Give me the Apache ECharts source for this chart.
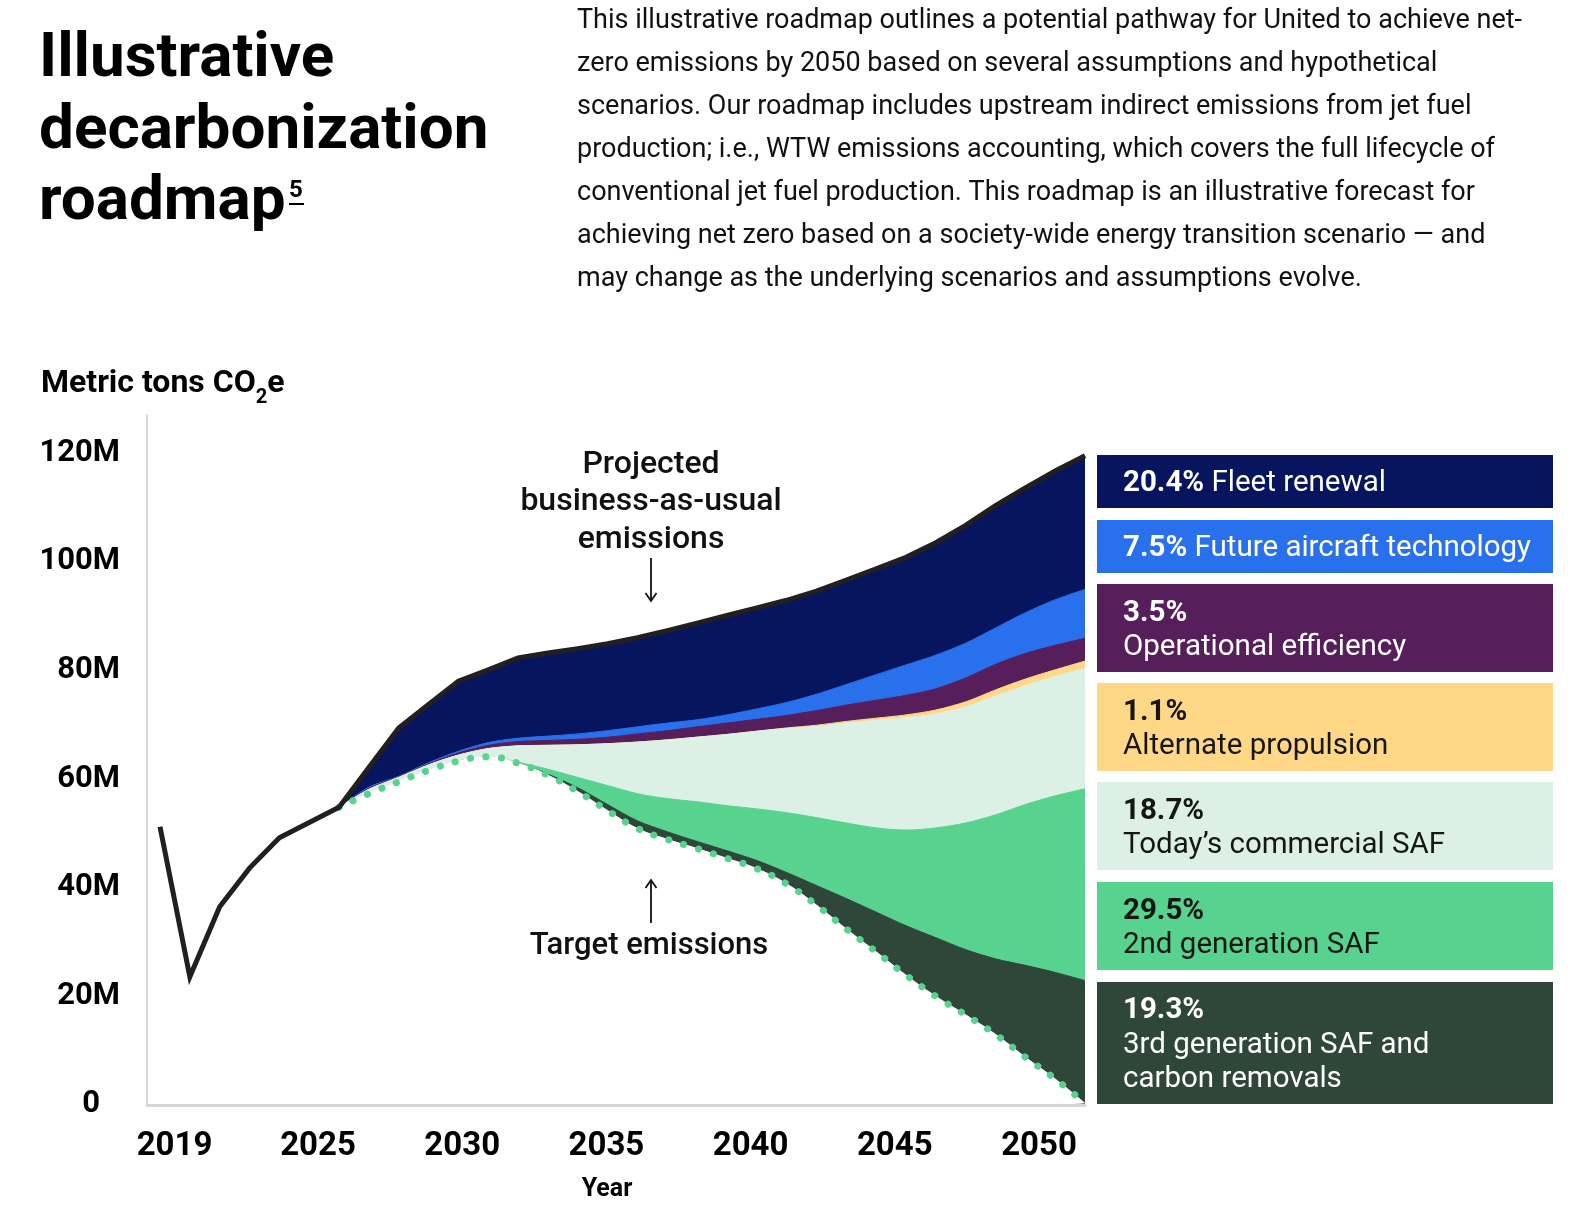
<!DOCTYPE html>
<html>
<head>
<meta charset="utf-8">
<script src="https://cdn.jsdelivr.net/npm/echarts@6/dist/echarts.min.js"></script>
<style>
html,body{margin:0;padding:0;background:#fff;}
#chart{width:1582px;height:1216px;}
</style>
</head>
<body>
<div id="chart"></div>
<script>
// ---------------- DATA ----------------
const yearsAll = [2019,2020,2021,2022,2023,2024,2025,2026,2027,2028,2029,2030,2031,2032,2033,2034,2035,2036,2037,2038,2039,2040,2041,2042,2043,2044,2045,2046,2047,2048,2049,2050];
const bauEmissions = [51.2,23.6,36.5,43.6,49.2,52.0,54.8,62.1,69.4,73.7,78.0,80.1,82.3,83.2,84.0,84.9,86.0,87.3,88.7,90.1,91.5,92.9,94.6,96.6,98.7,100.8,103.5,106.7,110.3,113.6,116.7,119.5];

const roadmapYears = [2025,2026,2027,2028,2029,2030,2031,2032,2033,2034,2035,2036,2037,2038,2039,2040,2041,2042,2043,2044,2045,2046,2047,2048,2049,2050];
const targetEmissions   = [54.8,57.3,59.5,61.6,63.3,64.1,62.9,60.7,57.7,54.2,50.9,48.9,47.2,45.4,43.5,40.7,36.8,32.4,28.2,23.9,20.0,16.6,13.0,8.8,4.8,0.3];
// upper edge of each wedge (cumulative)
const thirdGenSafTop    = [54.8,57.3,59.5,61.6,63.3,64.1,62.9,60.9,58.4,55.3,52.3,50.3,48.5,46.8,45.0,42.8,40.4,38.0,35.5,33.0,30.8,28.6,26.9,25.7,24.4,22.9];
const secondGenSafTop   = [54.8,57.3,59.5,61.6,63.3,64.1,63.1,61.8,60.3,58.8,57.3,56.4,55.8,55.1,54.5,53.8,52.9,51.9,51.0,50.6,51.0,51.9,53.4,55.3,56.9,58.2];
const todaySafTop       = [54.8,58.1,60.3,62.6,64.4,65.6,66.1,66.2,66.3,66.5,66.8,67.2,67.7,68.2,68.8,69.3,69.7,70.3,70.8,71.3,72.0,73.3,75.3,77.2,78.9,80.4];
const altPropulsionTop  = [54.8,58.1,60.3,62.6,64.4,65.6,66.1,66.2,66.3,66.5,66.8,67.2,67.7,68.2,68.8,69.4,69.9,70.6,71.2,71.8,72.7,74.2,76.4,78.4,80.1,81.7];
const opsEfficiencyTop  = [54.8,58.3,60.4,62.8,64.8,66.2,66.9,67.1,67.3,67.7,68.3,68.9,69.6,70.3,71.0,71.7,72.6,73.6,74.5,75.4,76.6,78.6,81.1,83.1,84.6,85.9];
const futureAircraftTop = [54.8,58.5,60.5,63.0,65.1,66.7,67.5,67.9,68.3,68.9,69.6,70.3,70.9,71.8,72.9,74.1,75.6,77.4,79.2,81.0,82.8,85.0,87.8,90.6,93.0,94.9];

const yTickValues = [0,20,40,60,80,100,120];
const xTickYears = [2025,2030,2035,2040,2045,2050];
const firstYearLabel = [2019];

const legendPercents = ['20.4%','7.5%','3.5%','1.1%','18.7%','29.5%','19.3%'];
const legendLabels = ['Fleet renewal','Future aircraft technology','Operational efficiency','Alternate propulsion','Today\u2019s commercial SAF','2nd generation SAF','3rd generation SAF and\ncarbon removals'];

const paragraphLines = [
  'This illustrative roadmap outlines a potential pathway for United to achieve net-',
  'zero emissions by 2050 based on several assumptions and hypothetical',
  'scenarios. Our roadmap includes upstream indirect emissions from jet fuel',
  'production; i.e., WTW emissions accounting, which covers the full lifecycle of',
  'conventional jet fuel production. This roadmap is an illustrative forecast for',
  'achieving net zero based on a society-wide energy transition scenario \u2014 and',
  'may change as the underlying scenarios and assumptions evolve.'
];

// ---------------- STYLE ----------------
const FONT = 'Roboto';
const C = {
  navy:'#07155f', blue:'#2870ec', purple:'#561f5b', yellow:'#fed886',
  mint:'#dcf0e6', green:'#58d28f', dark:'#2e4739', line:'#231f20'
};

const bauRoadmap = bauEmissions.slice(yearsAll.indexOf(2025));
// Layers painted back to front: each is filled from its upper edge down to the axis,
// the next (lower) layer covers the rest; the white fill below the target closes it.
const layers = [
  ['Fleet renewal', bauRoadmap, C.navy, false],
  ['Future aircraft technology', futureAircraftTop, C.blue, 0.3],
  ['Operational efficiency', opsEfficiencyTop, C.purple, 0.3],
  ['Alternate propulsion', altPropulsionTop, C.yellow, 0.3],
  ['Today\u2019s commercial SAF', todaySafTop, C.mint, 0.3],
  ['2nd generation SAF', secondGenSafTop, C.green, 0.3],
  ['3rd generation SAF and carbon removals', thirdGenSafTop, C.dark, 0.3]
];

const series = [];
layers.forEach((l, k)=>{
  series.push({
    name:l[0], type:'line', smooth:l[3], symbol:'none', z:2+k, silent:true,
    data: roadmapYears.map((y,i)=>[y, l[1][i]]),
    lineStyle:{width:1, color:l[2]},
    areaStyle:{color:l[2], opacity:1}
  });
});
const targetData = roadmapYears.map((y,i)=>[y, targetEmissions[i]]);
series.push({
  name:'Below target', type:'line', smooth:0.45, symbol:'none', z:10, silent:true,
  data: targetData,
  lineStyle:{width:1, color:'#ffffff'},
  areaStyle:{color:'#ffffff', opacity:1, shadowColor:'#ffffff', shadowBlur:1, shadowOffsetX:-2}
});
series.push({
  name:'Target emissions', type:'line', smooth:0.45, symbol:'none', z:12, silent:true,
  data: targetData,
  lineStyle:{color:C.green, width:7, type:[0.1,15.5], cap:'round'}
});
series.push({
  name:'Projected business-as-usual emissions', type:'line', symbol:'none', z:13, silent:true,
  data: yearsAll.map((y,i)=>[y, bauEmissions[i]]),
  lineStyle:{color:C.line, width:5, join:'miter'}
});

// ---------------- GRAPHICS (text, legend boxes) ----------------
const graphic = [];
function txt(o){ graphic.push({type:'text', silent:true, z:100, style:o}); }

const titleFont = 'bold 62px ' + FONT;
txt({text:'Illustrative', x:39, y:60, font:titleFont, fill:'#000', verticalAlign:'middle', textVerticalAlign:'middle'});
txt({text:'decarbonization', x:39, y:132, font:titleFont, fill:'#000', verticalAlign:'middle', textVerticalAlign:'middle'});
txt({text:'roadmap', x:39, y:203, font:titleFont, fill:'#000', verticalAlign:'middle', textVerticalAlign:'middle'});
txt({text:'5', x:289, y:191, font:'bold 24px '+FONT, fill:'#000', verticalAlign:'middle', textVerticalAlign:'middle'});
graphic.push({type:'line', silent:true, z:100, shape:{x1:289,y1:204,x2:304,y2:204}, style:{stroke:'#000', lineWidth:2}});

txt({text:paragraphLines.join('\n'), x:577, y:150, font:'27px '+FONT, lineHeight:43, fill:'#111', verticalAlign:'middle', textVerticalAlign:'middle'});

txt({
  text:'{m|Metric tons CO}{s|2}{m|e}', x:41, y:384, verticalAlign:'middle', textVerticalAlign:'middle',
  rich:{
    m:{fontFamily:FONT, fontWeight:700, fontSize:32, lineHeight:48, fill:'#000'},
    s:{fontFamily:FONT, fontWeight:700, fontSize:20, lineHeight:48, verticalAlign:'bottom', fill:'#000'}
  }
});

// annotations
txt({text:'Projected\nbusiness-as-usual\nemissions', x:651, y:502, font:'500 32px '+FONT, lineHeight:37.5, fill:'#111',
     align:'center', textAlign:'center', verticalAlign:'middle', textVerticalAlign:'middle'});
txt({text:'Target emissions', x:649, y:946, font:'500 31px '+FONT, fill:'#111',
     align:'center', textAlign:'center', verticalAlign:'middle', textVerticalAlign:'middle'});
graphic.push({type:'line', silent:true, z:100, shape:{x1:651,y1:558,x2:651,y2:601}, style:{stroke:'#111', lineWidth:1.8}});
graphic.push({type:'polyline', silent:true, z:100, shape:{points:[[645.5,593],[651,601],[656.5,593]]}, style:{stroke:'#111', lineWidth:1.8, fill:null}});
graphic.push({type:'line', silent:true, z:100, shape:{x1:651,y1:880,x2:651,y2:923}, style:{stroke:'#111', lineWidth:1.8}});
graphic.push({type:'polyline', silent:true, z:100, shape:{points:[[645.5,888],[651,880],[656.5,888]]}, style:{stroke:'#111', lineWidth:1.8, fill:null}});

// legend boxes
const boxLayout = [[455,53],[520,53],[584,88],[683,88],[782,88],[882,88],[982,122]];
const boxColors = [C.navy, C.blue, C.purple, C.yellow, C.mint, C.green, C.dark];
const boxText = ['#fff','#fff','#fff','#161616','#161616','#161616','#fff'];
boxLayout.forEach((b,i)=>{
  graphic.push({type:'rect', silent:true, z:100, shape:{x:1097, y:b[0], width:456, height:b[1]}, style:{fill:boxColors[i]}});
  const inline = b[1] < 60;
  const text = inline
    ? `{p|${legendPercents[i]}}{l| ${legendLabels[i]}}`
    : `{p|${legendPercents[i]}}\n` + legendLabels[i].split('\n').map(s=>`{l|${s}}`).join('\n');
  graphic.push({type:'text', silent:true, z:101, style:{
    text, x:1123, y:b[0]+b[1]/2+2.5, verticalAlign:'middle', textVerticalAlign:'middle',
    rich:{
      p:{fontFamily:FONT, fontWeight:700, fontSize:29.5, lineHeight:34.5, fill:boxText[i]},
      l:{fontFamily:FONT, fontWeight:400, fontSize:29.5, lineHeight:34.5, fill:boxText[i]}
    }
  }});
});

// ---------------- CHART ----------------
const chart = echarts.init(document.getElementById('chart'), null, {renderer:'canvas'});
chart.setOption({
  animation:false,
  backgroundColor:'#fff',
  grid:{left:147, right:497, top:415, bottom:111},
  xAxis:[{
    type:'value', min:2018.564, max:2050, z:20,
    axisLine:{show:true, onZero:false, lineStyle:{color:'#d6d6d2', width:3}},
    axisTick:{show:false}, splitLine:{show:false},
    axisLabel:{
      customValues:firstYearLabel, margin:25,
      formatter:v=> firstYearLabel.indexOf(v)>=0 ? '{y|'+v+'}' : '',
      rich:{y:{fontFamily:FONT, fontWeight:700, fontSize:33, color:'#000', padding:[0,0,0,29]}}
    }
  },{
    type:'value', min:2019.071, max:2051.595, position:'bottom',
    axisLine:{show:false}, axisTick:{show:false}, splitLine:{show:false},
    axisLabel:{
      customValues:xTickYears, margin:25, fontFamily:FONT, fontWeight:700, fontSize:33, color:'#000',
      formatter:v=> xTickYears.indexOf(v)>=0 ? String(v) : ''
    },
    name:'Year', nameLocation:'middle', nameGap:72,
    nameTextStyle:{fontFamily:FONT, fontWeight:700, fontSize:25, color:'#000', padding:[0,18,0,0]}
  }],
  yAxis:{
    type:'value', min:0, max:127, interval:20,
    axisLine:{show:true, lineStyle:{color:'#d9d9d9', width:2}},
    axisTick:{show:false}, splitLine:{show:false},
    axisLabel:{
      customValues:yTickValues, margin:27,
      fontFamily:FONT, fontWeight:700, fontSize:31, color:'#000',
      formatter:v=> v===0 ? '{z|0}' : (yTickValues.indexOf(v)>=0 ? v+'M' : ''),
      rich:{z:{fontFamily:FONT, fontWeight:700, fontSize:31, color:'#000', padding:[0,20,2,0]}}
    }
  },
  series,
  graphic
});
</script>
</body>
</html>
